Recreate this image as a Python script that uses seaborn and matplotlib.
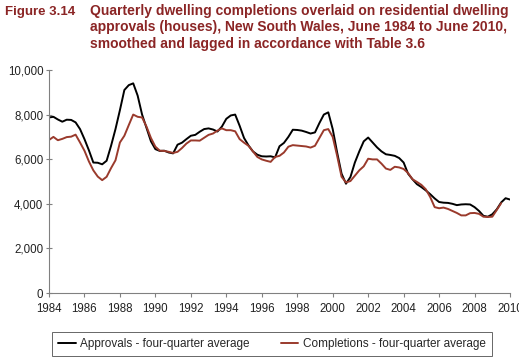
import matplotlib
matplotlib.use("Agg")
import matplotlib.pyplot as plt
import numpy as np
import pandas as pd
import seaborn as sns

# quarterly, 1984.00 .. 2010.00 (tick labels sit on the June quarter)
START_YEAR = 1984
APPROVALS = [
    7870, 7900, 7780, 7680, 7770, 7760, 7650, 7350,  # 1984-85
    6900, 6400, 5850, 5840, 5770, 5930, 6600, 7350,  # 1986-87
    8200, 9100, 9320, 9400, 8850, 8000, 7400, 6800,  # 1988-89
    6450, 6370, 6380, 6300, 6260, 6650, 6740, 6900,  # 1990-91
    7050, 7090, 7230, 7350, 7380, 7330, 7240, 7460,  # 1992-93
    7810, 7960, 8000, 7500, 6950, 6620, 6350, 6200,  # 1994-95
    6130, 6120, 6130, 6080, 6580, 6730, 7000, 7320,  # 1996-97
    7310, 7280, 7220, 7150, 7200, 7620, 8000, 8100,  # 1998-99
    7350, 6300, 5350, 4900, 5200, 5850, 6350, 6800,  # 2000-01
    6970, 6750, 6530, 6350, 6220, 6190, 6150, 6050,  # 2002-03
    5850, 5350, 5100, 4880, 4750, 4600, 4430, 4240,  # 2004-05
    4080, 4050, 4040, 4000, 3940, 3970, 3980, 3970,  # 2006-07
    3850, 3680, 3460, 3420, 3530, 3750, 4060, 4250,  # 2008-09
    4190,                                            # 2010
]
COMPLETIONS = [
    6860, 7000, 6850, 6910, 6990, 7010, 7100, 6750,
    6380, 5900, 5500, 5220, 5060, 5210, 5600, 5950,
    6750, 7050, 7530, 8000, 7900, 7870, 7460, 6950,
    6560, 6380, 6370, 6330, 6280, 6330, 6500, 6700,
    6840, 6840, 6830, 6960, 7090, 7150, 7280, 7380,
    7300, 7300, 7250, 6900, 6740, 6600, 6350, 6100,
    5990, 5930, 5880, 6100, 6150, 6300, 6560, 6630,
    6610, 6590, 6570, 6520, 6600, 6950, 7300, 7350,
    7000, 6150, 5210, 4960, 5020, 5260, 5500, 5680,
    6020, 5990, 5990, 5800, 5580, 5520, 5660, 5630,
    5560, 5380, 5100, 4980, 4850, 4650, 4300, 3850,
    3800, 3830, 3770, 3680, 3590, 3480, 3480, 3580,
    3590, 3550, 3420, 3410, 3420, 3720, 4030, np.nan,
    np.nan,
]
SERIES = ["Approvals - four-quarter average", "Completions - four-quarter average"]
COLOURS = ["#000000", "#9a3a2c"]
X_TICKS = list(range(1984, 2011, 2))
Y_TICKS = [0, 2000, 4000, 6000, 8000, 10000]

FIG_LABEL = "Figure 3.14"
TITLE_LINES = [
    "Quarterly dwelling completions overlaid on residential dwelling",
    "approvals (houses), New South Wales, June 1984 to June 2010,",
    "smoothed and lagged in accordance with Table 3.6",
]
TITLE_RED = "#8b2525"


def build_frame() -> pd.DataFrame:
    years = START_YEAR + np.arange(len(APPROVALS)) / 4
    parts = []
    for name, vals in zip(SERIES, [APPROVALS, COMPLETIONS]):
        parts.append(pd.DataFrame({"year": years, "value": vals, "series": name}))
    return pd.concat(parts, ignore_index=True).dropna()


def main() -> None:
    sns.set_theme(style="white")
    plt.rcParams["font.family"] = ["Liberation Sans", "DejaVu Sans"]

    df = build_frame()
    fig = plt.figure(figsize=(5.19, 3.64), dpi=100)
    ax = fig.add_axes([0.0944, 0.195, 0.8883, 0.6128])

    sns.lineplot(
        data=df, x="year", y="value", hue="series", hue_order=SERIES,
        palette=COLOURS, estimator=None, linewidth=1.4, ax=ax,
    )

    ax.set_xlim(1984, 2010)
    ax.set_ylim(0, 10000)
    ax.set_xticks(X_TICKS)
    ax.set_xticklabels([str(y) for y in X_TICKS])
    ax.set_yticks(Y_TICKS)
    ax.set_yticklabels([f"{v:,}" for v in Y_TICKS])
    ax.set_xlabel("")
    ax.set_ylabel("")
    for side in ("top", "right"):
        ax.spines[side].set_visible(False)
    for side in ("left", "bottom"):
        ax.spines[side].set_color("#808080")
        ax.spines[side].set_linewidth(0.8)
    ax.tick_params(axis="x", direction="out", length=3, width=0.8, color="#808080",
                   labelsize=8.3, pad=4, bottom=True, labelcolor="#222222")
    ax.tick_params(axis="y", direction="inout", length=4, width=0.8, color="#808080",
                   labelsize=8.3, pad=2, left=True, labelcolor="#222222")

    ax.legend(
        loc="center", bbox_to_anchor=(0.524, 0.055), bbox_transform=fig.transFigure,
        ncol=2, frameon=True, fancybox=False, edgecolor="#404040", fontsize=8.5,
        handlelength=1.5, handletextpad=0.4, columnspacing=2.6, borderpad=0.5,
    )
    ax.get_legend().get_frame().set_linewidth(0.7)

    # title block: label + three lines, each placed on its own baseline
    baselines = [0.9588, 0.9135, 0.868]
    fig.text(0.01, baselines[0], FIG_LABEL, color=TITLE_RED, fontsize=9.5,
             fontweight="bold", va="baseline", ha="left")
    for line, yb in zip(TITLE_LINES, baselines):
        fig.text(0.173, yb, line, color=TITLE_RED, fontsize=10.0,
                 fontweight="bold", va="baseline", ha="left")

    fig.savefig("out.png", dpi=100)
    plt.close(fig)


if __name__ == "__main__":
    main()
